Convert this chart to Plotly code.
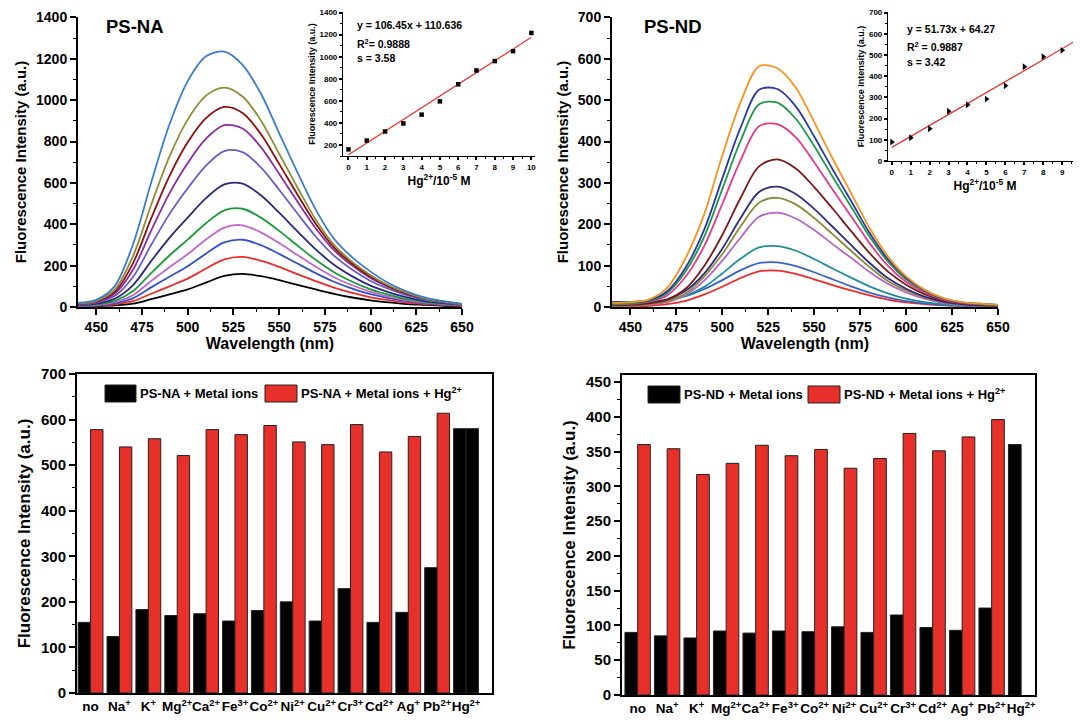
import plotly.graph_objects as go

FONT = "Liberation Sans, Arial, sans-serif"

# ---------------- data ----------------
wavelength = [440, 450, 460, 470, 480, 490, 500, 510, 520, 530, 540,
              550, 560, 570, 580, 590, 600, 610, 620, 630, 640, 650]

# PS-NA emission spectra (Hg2+ 0 -> 10 x1e-5 M)
na_s0 = [2, 4, 8, 16, 38, 61, 85, 118, 150, 160, 149, 130, 107, 85, 64, 46, 32, 22, 14, 10, 6, 4]
na_s1 = [3, 6, 13, 28, 64, 100, 137, 186, 230, 242, 224, 194, 159, 125, 94, 68, 47, 33, 21, 14, 9, 6]
na_s2 = [4, 8, 18, 42, 95, 146, 197, 258, 312, 325, 299, 257, 210, 164, 122, 89, 62, 43, 28, 18, 12, 7]
na_s3 = [5, 10, 24, 57, 126, 192, 255, 326, 384, 395, 361, 309, 251, 195, 144, 105, 73, 50, 33, 21, 14, 8]
na_s4 = [7, 13, 30, 76, 164, 249, 326, 405, 467, 475, 432, 368, 297, 228, 168, 122, 85, 59, 38, 24, 16, 10]
na_s5 = [9, 16, 40, 105, 222, 334, 432, 526, 593, 596, 540, 456, 366, 279, 204, 148, 103, 71, 46, 29, 19, 11]
na_s6 = [11, 21, 53, 144, 300, 449, 574, 684, 754, 749, 675, 567, 452, 341, 248, 180, 126, 87, 56, 35, 23, 13]
na_s7 = [13, 24, 64, 179, 369, 549, 696, 814, 879, 863, 773, 644, 510, 381, 275, 200, 140, 96, 62, 39, 25, 14]
na_s8 = [15, 27, 73, 210, 428, 633, 796, 913, 967, 938, 836, 692, 544, 403, 288, 209, 147, 100, 65, 40, 26, 14]
na_s9 = [17, 30, 83, 244, 493, 727, 906, 1022, 1061, 1018, 902, 741, 578, 423, 300, 218, 154, 104, 68, 41, 26, 14]
na_s10 = [20, 35, 100, 301, 601, 882, 1092, 1212, 1235, 1171, 1032, 841, 651, 471, 330, 240, 171, 115, 75, 45, 28, 15]
na_spectra = [na_s0, na_s1, na_s2, na_s3, na_s4, na_s5, na_s6, na_s7, na_s8, na_s9, na_s10]
na_colors = ["#000000", "#EE2B2B", "#3451C9", "#C067C8", "#1C9A3C", "#2A2A7A",
             "#6B5BC5", "#8A2BA0", "#8B1010", "#8E8E36", "#3A7DC9"]

# PS-ND emission spectra
nd_s0 = [0, 1, 3, 7, 15, 30, 49, 70, 86, 88, 80, 67, 53, 40, 28, 18, 11, 7, 4, 3, 2, 1]
nd_s1 = [12, 12, 14, 18, 26, 43, 65, 89, 106, 108, 99, 84, 67, 50, 35, 23, 14, 9, 5, 3, 2, 2]
nd_s2 = [5, 6, 10, 16, 27, 48, 81, 117, 144, 147, 136, 116, 93, 71, 50, 33, 20, 12, 7, 4, 3, 2]
nd_s3 = [2, 3, 6, 12, 29, 63, 112, 168, 218, 228, 214, 186, 152, 119, 85, 56, 35, 20, 10, 6, 3, 2]
nd_s4 = [3, 4, 7, 14, 33, 73, 128, 195, 252, 264, 248, 215, 176, 136, 97, 63, 40, 23, 12, 7, 4, 3]
nd_s5 = [8, 8, 10, 18, 39, 80, 141, 215, 278, 291, 273, 237, 194, 150, 107, 70, 44, 25, 13, 7, 4, 3]
nd_s6 = [4, 5, 9, 18, 44, 98, 174, 264, 340, 357, 335, 290, 238, 184, 131, 86, 54, 31, 16, 9, 5, 4]
nd_s7 = [6, 8, 13, 28, 73, 146, 249, 355, 437, 442, 410, 350, 284, 220, 155, 100, 61, 35, 18, 10, 7, 4]
nd_s8 = [7, 9, 14, 34, 86, 168, 285, 402, 490, 494, 455, 389, 315, 243, 171, 110, 67, 39, 20, 11, 7, 5]
nd_s9 = [12, 12, 16, 38, 95, 185, 311, 434, 525, 527, 485, 412, 333, 257, 180, 116, 71, 40, 21, 11, 8, 5]
nd_s10 = [10, 12, 18, 46, 118, 222, 366, 495, 582, 577, 530, 447, 359, 276, 192, 123, 74, 42, 22, 12, 8, 5]
nd_spectra = [nd_s0, nd_s1, nd_s2, nd_s3, nd_s4, nd_s5, nd_s6, nd_s7, nd_s8, nd_s9, nd_s10]
nd_colors = ["#EE2B2B", "#3A63C8", "#1F8F9A", "#B565C4", "#8C8C3A", "#2B2B82",
             "#7A1A1A", "#E5388F", "#1E9A4A", "#2A3AA0", "#F7931E"]

# calibration insets
hg_conc = [0, 1, 2, 3, 4, 5, 6, 7, 8, 9, 10]
na_peak = [160, 240, 322, 395, 475, 595, 750, 875, 960, 1050, 1215]
nd_peak = [90, 110, 152, 235, 265, 292, 355, 445, 492, 522, 590]
na_fit_x = [0, 10]
na_fit_y = [110.6, 1175.1]
nd_fit_x = [0, 10.3]
nd_fit_y = [64.3, 597.0]

# selectivity bars
ions = ["no", "Na<sup>+</sup>", "K<sup>+</sup>", "Mg<sup>2+</sup>", "Ca<sup>2+</sup>",
        "Fe<sup>3+</sup>", "Co<sup>2+</sup>", "Ni<sup>2+</sup>", "Cu<sup>2+</sup>",
        "Cr<sup>3+</sup>", "Cd<sup>2+</sup>", "Ag<sup>+</sup>", "Pb<sup>2+</sup>", "Hg<sup>2+</sup>"]
na_metal = [155, 124, 183, 170, 174, 158, 181, 200, 158, 229, 155, 177, 275, 580]
na_metal_hg = [578, 540, 558, 521, 578, 567, 587, 551, 545, 589, 529, 563, 614, 580]
nd_metal = [90, 85, 82, 92, 89, 92, 91, 98, 90, 115, 97, 93, 125, 360]
nd_metal_hg = [360, 354, 317, 333, 359, 344, 353, 326, 340, 376, 351, 371, 396, None]

RED = "#E8302A"
W, H = 1081, 720
OFF = 8  # page body margin


def px(x):
    return (x - OFF) / W


def py(y):
    return 1 - (y - OFF) / H


fig = go.Figure()

# spectra
for ys, c in zip(na_spectra, na_colors):
    fig.add_trace(go.Scatter(x=wavelength, y=ys, mode="lines", xaxis="x", yaxis="y",
                             line=dict(color=c, width=1.8, shape="spline", smoothing=0.9),
                             showlegend=False))
for ys, c in zip(nd_spectra, nd_colors):
    fig.add_trace(go.Scatter(x=wavelength, y=ys, mode="lines", xaxis="x2", yaxis="y2",
                             line=dict(color=c, width=1.8, shape="spline", smoothing=0.9),
                             showlegend=False))

# bars
fig.add_trace(go.Bar(x=ions, y=na_metal, xaxis="x3", yaxis="y3", marker=dict(color="black", line=dict(color="#222", width=1)), showlegend=False))
fig.add_trace(go.Bar(x=ions, y=na_metal_hg, xaxis="x3", yaxis="y3",
                     marker=dict(color=[RED] * 13 + ["black"], line=dict(color="#222", width=1)), showlegend=False))
fig.add_trace(go.Bar(x=ions, y=nd_metal, xaxis="x4", yaxis="y4", marker=dict(color="black", line=dict(color="#222", width=1)), showlegend=False))
fig.add_trace(go.Bar(x=ions, y=nd_metal_hg, xaxis="x4", yaxis="y4", marker=dict(color=RED, line=dict(color="#222", width=1)), showlegend=False))

# insets
fig.add_trace(go.Scatter(x=na_fit_x, y=na_fit_y, mode="lines", xaxis="x5", yaxis="y5", line=dict(color=RED, width=1.2), showlegend=False))
fig.add_trace(go.Scatter(x=hg_conc, y=na_peak, mode="markers", xaxis="x5", yaxis="y5", marker=dict(symbol="square", size=4.5, color="black"), showlegend=False))
fig.add_trace(go.Scatter(x=nd_fit_x, y=nd_fit_y, mode="lines", xaxis="x6", yaxis="y6", line=dict(color=RED, width=1.2), showlegend=False))
fig.add_trace(go.Scatter(x=hg_conc, y=nd_peak, mode="markers", xaxis="x6", yaxis="y6", marker=dict(symbol="triangle-right", size=6, color="black"), showlegend=False))


def ax(domain, anchor, rng, size=14, dtick=None, tick0=None, minor=None, title=None, tfs=15,
       standoff=8, mirror=False, ticks="outside", ticklen=6, lw=2, **kw):
    d = dict(domain=domain, anchor=anchor, range=rng, showgrid=False, zeroline=False,
             automargin=False,
             showline=True, linecolor="black", linewidth=lw, mirror=mirror,
             ticks=ticks, ticklen=ticklen, tickwidth=1.5, tickcolor="black",
             tickfont=dict(family=FONT, size=size, color="black", weight="bold"))
    if dtick is not None:
        d["dtick"] = dtick
    if tick0 is not None:
        d["tick0"] = tick0
    if minor is not None:
        d["minor"] = dict(dtick=minor, ticks="outside", ticklen=ticklen / 2, tickwidth=1.2, tickcolor="black", showgrid=False)
    if title is not None:
        d["title"] = dict(text=title, font=dict(family=FONT, size=tfs, color="black", weight="bold"), standoff=standoff)
    d.update(kw)
    return d


FI = "Fluorescence Intensity (a.u.)"
top_y = [py(307), py(17)]
bot_yL = [py(693), py(374)]
bot_yR = [py(695), py(375)]

fig.update_layout(
    template="none",
    width=W, height=H, margin=dict(l=0, r=0, t=0, b=0),
    paper_bgcolor="white", plot_bgcolor="white",
    barmode="group", bargap=0.14, bargroupgap=0,
    font=dict(family=FONT, color="black"),
    xaxis=ax([px(78), px(462)], "y", [440, 650], dtick=25, tick0=450, minor=12.5, title="Wavelength (nm)", tfs=16, standoff=3),
    yaxis=ax(top_y, "x", [0, 1402], dtick=200, minor=100, title=FI, tfs=15, standoff=6, ticklabeloverflow="allow"),
    xaxis2=ax([px(612), px(998)], "y2", [440, 650], dtick=25, tick0=450, minor=12.5, title="Wavelength (nm)", tfs=16, standoff=3),
    yaxis2=ax(top_y, "x2", [0, 701], dtick=100, minor=50, title=FI, tfs=15, standoff=6, ticklabeloverflow="allow"),
    xaxis3=ax([px(77), px(492)], "y3", [-0.47, 13.9], size=13.5, ticks="", mirror=True, type="category", tickangle=0),
    yaxis3=ax(bot_yL, "x3", [0, 700], size=15, dtick=100, minor=50, title=FI, tfs=17, standoff=6, mirror=True),
    xaxis4=ax([px(622), px(1035)], "y4", [-0.53, 13.47], size=13.5, ticks="", mirror=True, type="category", tickangle=0),
    yaxis4=ax(bot_yR, "x4", [0, 460], size=15, dtick=50, minor=25, title=FI, tfs=17, standoff=6, mirror=True),
    xaxis5=ax([px(343), px(535)], "y5", [-0.3, 10.2], size=8, dtick=1, minor=0.5, ticklen=3, lw=1.2,
              title="Hg<sup>2+</sup>/10<sup>-5</sup> M", tfs=12, standoff=0),
    yaxis5=ax([py(156), py(12)], "x5", [100, 1405], size=8, dtick=200, minor=100, ticklen=3, lw=1.2,
              title=FI, tfs=9, standoff=2, ticklabeloverflow="allow"),
    xaxis6=ax([px(888), px(1082)], "y6", [-0.2, 10.05], size=8, dtick=1, minor=0.5, ticklen=3, lw=1.2,
              title="Hg<sup>2+</sup>/10<sup>-5</sup> M", tfs=12, standoff=0, ticklabeloverflow="allow"),
    yaxis6=ax([py(161), py(12)], "x6", [0, 703], size=8, dtick=100, minor=50, ticklen=3, lw=1.2,
              title=FI, tfs=9, standoff=2, ticklabeloverflow="allow"),
)

ann = []


def txt(x, y, s, size, xanchor="left"):
    ann.append(dict(x=px(x), y=py(y), xref="paper", yref="paper", text=s, showarrow=False,
                    xanchor=xanchor, yanchor="middle", borderpad=0,
                    font=dict(family=FONT, size=size, color="black", weight="bold")))


txt(105, 26, "PS-NA", 18.5)
txt(643, 26, "PS-ND", 18.5)
txt(356, 25, "y = 106.45x + 110.636", 10.5)
txt(356, 43, "R<sup>2</sup>= 0.9888", 10.5)
txt(356, 58, "s = 3.58", 10.5)
txt(906, 29, "y = 51.73x + 64.27", 10.5)
txt(906, 46, "R<sup>2</sup> = 0.9887", 10.5)
txt(906, 62, "s = 3.42", 10.5)

# bar legends
shapes = []


def swatch(x0, x1, y0, y1, color):
    shapes.append(dict(type="rect", xref="paper", yref="paper", x0=px(x0), x1=px(x1), y0=py(y1), y1=py(y0),
                       fillcolor=color, line=dict(color="#222", width=1)))


swatch(105, 136, 385, 402, "black")
txt(139, 393, "PS-NA + Metal ions", 13)
swatch(265, 297, 385, 402, RED)
txt(300, 393, "PS-NA + Metal ions + Hg<sup>2+</sup>", 13)
swatch(648, 680, 386, 403, "black")
txt(683, 394, "PS-ND + Metal ions", 13)
swatch(808, 840, 386, 403, RED)
txt(843, 394, "PS-ND + Metal ions + Hg<sup>2+</sup>", 13)

fig.update_layout(annotations=ann, shapes=shapes)
fig.write_html("out.html")
